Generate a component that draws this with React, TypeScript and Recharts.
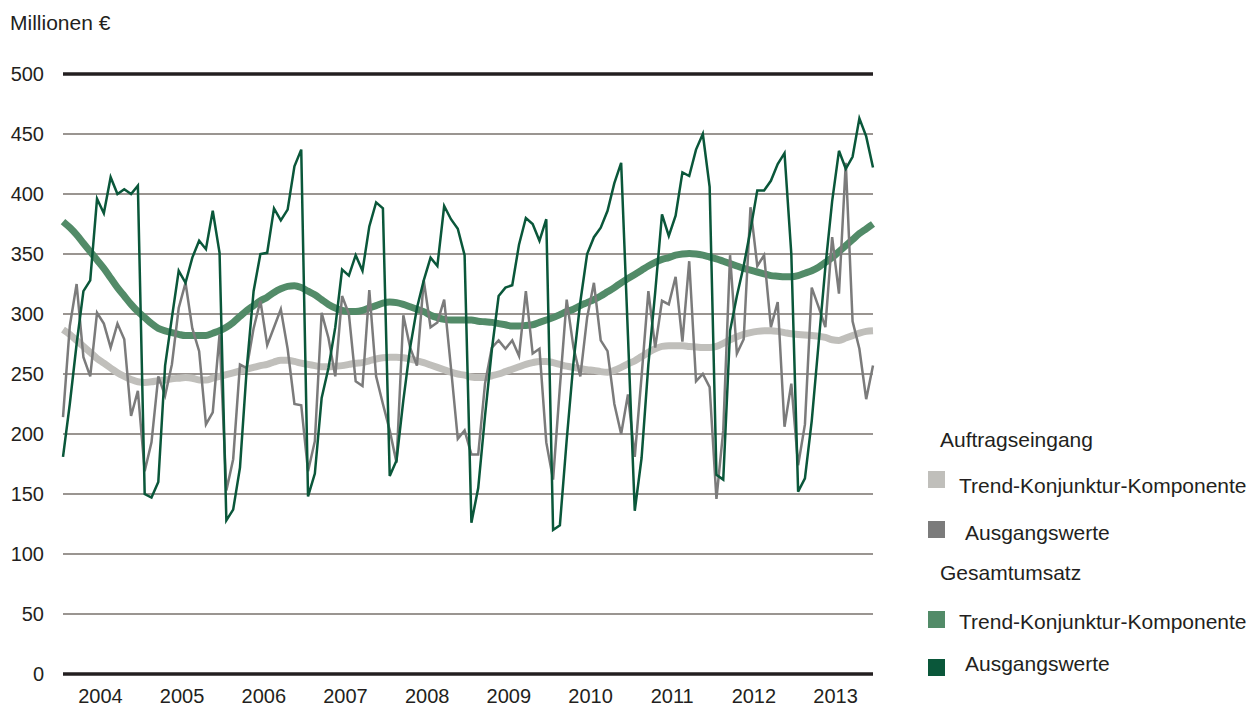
import React from "react";
import {
  LineChart,
  Line,
  XAxis,
  YAxis,
  CartesianGrid,
  ReferenceLine,
} from "recharts";

const years = ["2004", "2005", "2006", "2007", "2008", "2009", "2010", "2011", "2012", "2013"];
const yTicks = [0, 50, 100, 150, 200, 250, 300, 350, 400, 450, 500];

// Auftragseingang, Trend-Konjunktur-Komponente (monthly, Jan 2004 - Dec 2013)
const auftragTrend = [
  287, 283, 278, 273, 268, 263, 259, 255, 251, 248, 245.5, 243.5,
  243, 243.5, 244.5, 245, 246, 246.5, 247, 246.5, 245, 245, 246.5, 248,
  249.5, 251, 252.5, 254, 255.5, 257, 258, 260, 261.5, 261.5, 260.5, 259,
  258, 257, 256, 256, 256.5, 257, 258, 259, 259.5, 261, 262.5, 263.5,
  264, 264, 263.5, 262.5, 261, 259.5, 257.5, 255.5, 253.5, 251.5, 250, 249,
  247.5, 247, 247, 248.5, 250, 252, 254, 256, 258, 259.5, 260.5, 260.5,
  259.5, 258, 256.5, 255.5, 254.5, 253.5, 253, 252, 251.5, 253, 255.5, 258.5,
  261, 264.5, 268, 271, 273, 273.5, 273.5, 273.5, 273, 272.5, 272, 272,
  273, 275.5, 278.5, 281, 283, 284.5, 285.5, 286, 286, 285.5, 284.5, 283.5,
  283, 282.5, 282, 281.5, 280.5, 278.5, 278, 280, 282, 284, 285.5, 286,
];

// Auftragseingang, Ausgangswerte
const auftragRaw = [
  214, 290, 325, 264, 248, 301, 292, 272, 292, 279, 215, 236,
  169, 193, 248, 232, 258, 305, 326, 288, 269, 208, 218, 283,
  153, 179, 258, 255, 288, 311, 274, 289, 304, 271, 225, 224,
  169, 194, 301, 280, 248, 315, 300, 244, 240, 320, 248, 225,
  203, 176, 299, 272, 257, 328, 289, 293, 312, 255, 196, 203,
  183, 183, 242, 272, 278, 271, 278, 265, 319, 267, 271, 193,
  162, 239, 312, 272, 248, 297, 326, 278, 269, 225, 200, 233,
  181, 248, 319, 272, 311, 308, 331, 277, 344, 244, 250, 239,
  146, 203, 349, 267, 279, 389, 340, 349, 289, 310, 206, 242,
  174, 208, 322, 306, 289, 364, 317, 426, 294, 271, 229, 257,
];

// Gesamtumsatz, Trend-Konjunktur-Komponente
const gesamtTrend = [
  377, 372, 366, 359, 352, 345, 338, 330, 322, 315, 308, 302,
  297, 292, 288, 286, 284.5, 283, 282, 282, 282, 282, 284, 286,
  289, 293, 298, 303, 307, 311, 314, 318, 321, 323, 323.5, 322,
  319, 316, 312, 308, 305, 303, 302, 302, 303, 305, 307, 309,
  310, 309.5, 308, 306, 304, 302, 299, 297, 295.5, 295, 295, 295,
  295, 294, 293.5, 293, 292, 291, 290, 290, 290.5, 291, 293, 295,
  297, 299.5, 302, 304, 307, 309.5, 312, 315, 318.5, 322, 326, 329.5,
  333, 336.5, 340, 343, 345.5, 347, 349, 350, 350.5, 350, 349, 347.5,
  346, 344, 342, 340, 338, 336.5, 335, 333.5, 332, 331.5, 331, 331,
  332, 334, 336, 339, 343, 347, 352, 357, 362, 367, 371, 375,
];

// Gesamtumsatz, Ausgangswerte
const gesamtRaw = [
  181, 225, 275, 319, 328, 396, 384, 414, 400, 404, 400, 407,
  150, 147, 160, 257, 297, 336, 326, 347, 361, 354, 386, 351,
  128, 137, 172, 255, 319, 350, 351, 388, 378, 387, 423, 437,
  148, 167, 230, 255, 289, 337, 332, 349, 336, 373, 393, 388,
  165, 178, 228, 272, 305, 328, 347, 340, 390, 379, 371, 349,
  126, 155, 215, 270, 315, 322, 324, 358, 380, 375, 361, 379,
  120, 124, 195, 260, 310, 350, 364, 372, 386, 409, 426, 282,
  136, 180, 258, 318, 383, 365, 382, 418, 415, 437, 450, 406,
  166, 162, 286, 315, 340, 370, 403, 403, 411, 425, 434, 350,
  152, 163, 211, 275, 339, 394, 436, 421, 431, 463, 448, 422,
];

const data = gesamtRaw.map((v, i) => ({
  i,
  auftragTrend: auftragTrend[i],
  auftragRaw: auftragRaw[i],
  gesamtTrend: gesamtTrend[i],
  gesamtRaw: v,
}));

const xTicks = years.map((_, k) => k * 12 + 5.5);

const font = "'Liberation Sans', Arial, sans-serif";
const txt = "#231f20";

const legendItems = [
  { kind: "head", label: "Auftragseingang", left: 940, top: 429 },
  { kind: "item", label: "Trend-Konjunktur-Komponente", color: "#c0bfbb", sq: 471, left: 959, top: 475 },
  { kind: "item", label: "Ausgangswerte", color: "#7b7b7b", sq: 521, left: 965, top: 522 },
  { kind: "head", label: "Gesamtumsatz", left: 940, top: 562 },
  { kind: "item", label: "Trend-Konjunktur-Komponente", color: "#528b68", sq: 611, left: 959, top: 611 },
  { kind: "item", label: "Ausgangswerte", color: "#0a573a", sq: 659, left: 965, top: 653 },
];

export default function App() {
  return (
    <div style={{ position: "absolute", left: 0, top: 0, width: 1255, height: 709, background: "#fff", fontFamily: font }}>
      <div style={{ position: "absolute", left: 10, top: 12, fontSize: 21, lineHeight: "21px", color: txt }}>
        Millionen €
      </div>
      <LineChart
        width={1255}
        height={709}
        data={data}
        margin={{ top: 74, right: 382, bottom: 0, left: 0 }}
      >
        <CartesianGrid horizontal vertical={false} stroke="#9a9591" strokeWidth={2} />
        <XAxis
          dataKey="i"
          type="number"
          domain={[0, 119]}
          ticks={xTicks}
          tickFormatter={(v) => years[Math.floor(v / 12)]}
          axisLine={false}
          tickLine={false}
          tickSize={0}
          tickMargin={15}
          height={35}
          interval={0}
          tick={{ fill: txt, fontSize: 20, fontFamily: font }}
        />
        <YAxis
          domain={[0, 500]}
          ticks={yTicks}
          axisLine={false}
          tickLine={false}
          tickSize={0}
          tickMargin={19}
          width={63}
          interval={0}
          tick={{ fill: txt, fontSize: 20, fontFamily: font }}
        />
        <ReferenceLine y={0} stroke="#231f20" strokeWidth={3.5} />
        <ReferenceLine y={500} stroke="#231f20" strokeWidth={3.5} />
        <Line type="monotone" dataKey="auftragTrend" stroke="#c0bfbb" strokeWidth={7} dot={false} isAnimationActive={false} />
        <Line type="monotone" dataKey="gesamtTrend" stroke="#528b68" strokeWidth={7} dot={false} isAnimationActive={false} />
        <Line type="linear" dataKey="auftragRaw" stroke="#7b7b7b" strokeWidth={2.5} dot={false} isAnimationActive={false} />
        <Line type="linear" dataKey="gesamtRaw" stroke="#0a573a" strokeWidth={2.5} dot={false} isAnimationActive={false} />
      </LineChart>
      {legendItems.map((it, k) => (
        <React.Fragment key={k}>
          {it.kind === "item" && (
            <div style={{ position: "absolute", left: 928, top: it.sq, width: 17, height: 17, background: it.color }} />
          )}
          <div style={{ position: "absolute", left: it.left, top: it.top, fontSize: 21, lineHeight: "21px", color: txt, whiteSpace: "nowrap" }}>
            {it.label}
          </div>
        </React.Fragment>
      ))}
    </div>
  );
}
